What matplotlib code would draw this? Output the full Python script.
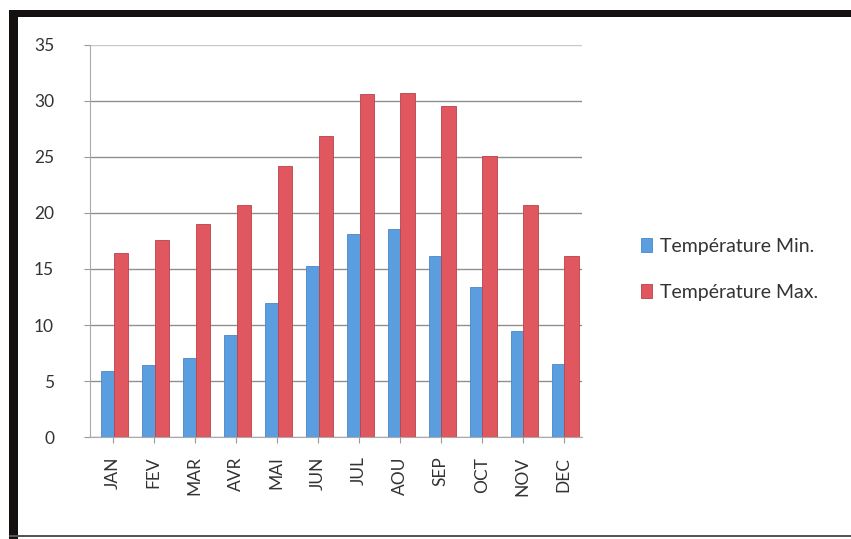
import matplotlib
matplotlib.use("Agg")
import matplotlib.pyplot as plt
import numpy as np
from matplotlib.patches import Rectangle

plt.rcParams["font.family"] = ["Lato", "DejaVu Sans"]

months = ["JAN", "FEV", "MAR", "AVR", "MAI", "JUN",
          "JUL", "AOU", "SEP", "OCT", "NOV", "DEC"]
temp_min = [5.9, 6.4, 7.1, 9.1, 12.0, 15.3, 18.1, 18.6, 16.2, 13.4, 9.5, 6.5]
temp_max = [16.4, 17.6, 19.0, 20.7, 24.2, 26.9, 30.6, 30.7, 29.5, 25.1, 20.7, 16.2]
y_ticks = [0, 5, 10, 15, 20, 25, 30, 35]

blue = "#5b9ee0"
red = "#e0575f"

fig = plt.figure(figsize=(8.51, 5.39), dpi=100)
fig.patch.set_facecolor("white")

# scanned frame: thick black top and left, thin bottom
fig.add_artist(Rectangle((0.010, 0.968), 0.99, 0.014, transform=fig.transFigure,
                         color="#151010", lw=0))
fig.add_artist(Rectangle((0.010, 0.0), 0.011, 0.982, transform=fig.transFigure,
                         color="#151010", lw=0))
fig.add_artist(Rectangle((0.010, 0.003), 0.99, 0.004, transform=fig.transFigure,
                         color="#555555", lw=0))

ax = fig.add_axes([0.106, 0.189, 0.578, 0.728])
x = np.arange(len(months))

ax.bar(x - 0.12, temp_min, width=0.33, color=blue, edgecolor="#4a87c4",
       linewidth=0.6, label="Température Min.", zorder=3)
ax.bar(x + 0.2, temp_max, width=0.36, color=red, edgecolor="#b8434a",
       linewidth=0.6, label="Température Max.", zorder=4)

ax.set_xlim(-0.55, 11.45)
ax.set_ylim(0, 35)
ax.set_yticks(y_ticks)
ax.set_yticklabels([str(v) for v in y_ticks], fontsize=12.5, color="#333333")
ax.set_xticks(x)
ax.set_xticklabels(months, rotation=90, fontsize=12.5, color="#333333")
ax.tick_params(axis="y", length=4, pad=22, color="#999999")
ax.tick_params(axis="x", length=4, pad=10, color="#999999")

ax.grid(axis="y", color="#8f8f8f", linewidth=1.0, zorder=0)
ax.get_ygridlines()[-1].set_color("#c8c8c8")
for s in ["top", "right"]:
    ax.spines[s].set_visible(False)
for s in ["left", "bottom"]:
    ax.spines[s].set_color("#aaaaaa")

fig.legend(loc="center left", bbox_to_anchor=(0.733, 0.5), frameon=False,
           fontsize=14, handlelength=0.55, handleheight=0.75,
           handletextpad=0.4, labelspacing=1.5, labelcolor="#333333")

fig.savefig("out.png", dpi=100)
